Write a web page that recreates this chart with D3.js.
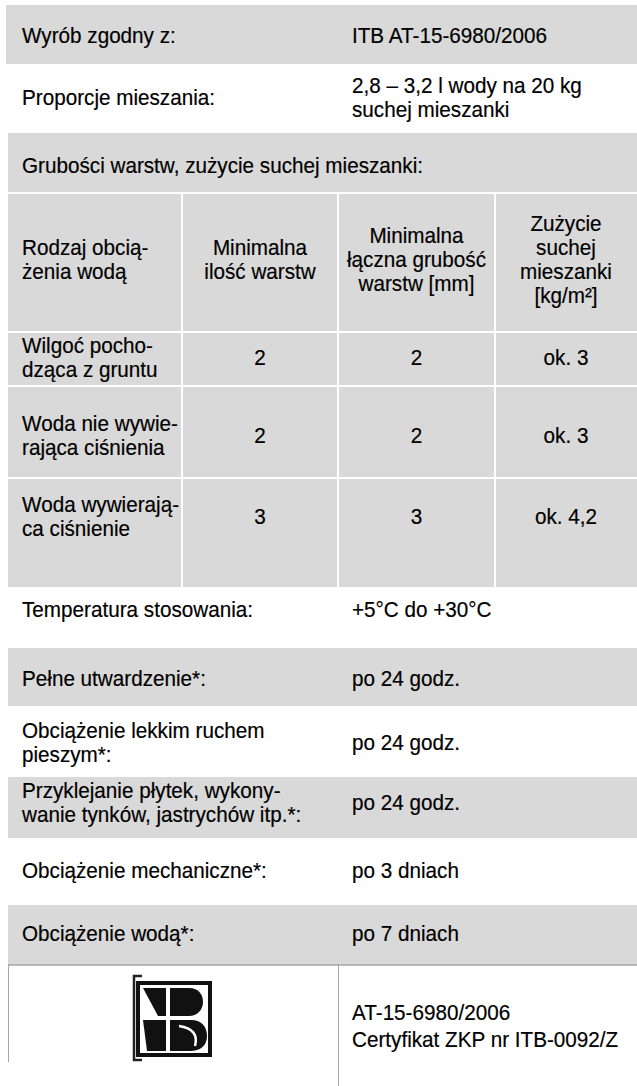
<!DOCTYPE html>
<html lang="pl">
<head>
<meta charset="UTF-8">
<title>Dane techniczne</title>
<script src="https://d3js.org/d3.v7.min.js"></script>
<style>
  body { margin: 0; background: #fff; }
  svg { display: block; }
  text { font-family: "Liberation Sans", Arial, sans-serif; font-size: 22px; fill: #000; stroke: #000; stroke-width: 0.2px; }
</style>
</head>
<body>
<div id="chart"></div>
<script>
  // --- data ---
  const topLabels = ["Wyrób zgodny z:", "Proporcje mieszania:"];
  const topValues = ["ITB AT-15-6980/2006", "2,8 – 3,2 l wody na 20 kg\nsuchej mieszanki"];
  const sectionTitle = "Grubości warstw, zużycie suchej mieszanki:";
  const tableColumns = ["Rodzaj obcią-\nżenia wodą", "Minimalna\nilość warstw",
                        "Minimalna\nłączna grubość\nwarstw [mm]", "Zużycie\nsuchej\nmieszanki\n[kg/m²]"];
  const loadTypes = ["Wilgoć pocho-\ndząca z gruntu", "Woda nie wywie-\nrająca ciśnienia", "Woda wywierają-\nca ciśnienie"];
  const minLayers = ["2", "2", "3"];
  const minThickness = ["2", "2", "3"];
  const consumption = ["ok. 3", "ok. 3", "ok. 4,2"];
  const propLabels = ["Temperatura stosowania:", "Pełne utwardzenie*:", "Obciążenie lekkim ruchem\npieszym*:",
                      "Przyklejanie płytek, wykony-\nwanie tynków, jastrychów itp.*:", "Obciążenie mechaniczne*:",
                      "Obciążenie wodą*:"];
  const propValues = ["+5°C do +30°C", "po 24 godz.", "po 24 godz.", "po 24 godz.", "po 3 dniach", "po 7 dniach"];
  const certLines = ["AT-15-6980/2006", "Certyfikat ZKP nr ITB-0092/Z"];

  // --- layout ---
  const width = 637, height = 1086;
  const gray = "#d9d9d9";
  const lineH = 24;
  const squeeze = 0.94;   // the original type is a little narrower than Arial

  const svg = d3.select("#chart").append("svg")
      .attr("width", width)
      .attr("height", height);

  // horizontal bands
  const bands = [
    { y0: 5,   y1: 64,  fill: true,  cy: 36 },   // Wyrób
    { y0: 64,  y1: 133, fill: false, cy: 98 },   // Proporcje
    { y0: 133, y1: 193, fill: true,  cy: 166 },  // Grubości
    { y0: 193, y1: 587, fill: true,  cy: 0 },    // table
    { y0: 587, y1: 648, fill: false, cy: 610 },
    { y0: 648, y1: 706, fill: true,  cy: 679 },
    { y0: 706, y1: 777, fill: false, cy: 743 },
    { y0: 777, y1: 838, fill: true,  cy: 803 },
    { y0: 838, y1: 905, fill: false, cy: 871 },
    { y0: 905, y1: 965, fill: true,  cy: 934 }
  ];

  svg.selectAll("rect.band")
    .data(bands.filter(d => d.fill))
    .join("rect")
      .attr("class", "band")
      .attr("x", d => d.y0 < 100 ? 6 : 8)
      .attr("y", d => d.y0)
      .attr("width", d => width - (d.y0 < 100 ? 6 : 8))
      .attr("height", d => d.y1 - d.y0)
      .attr("fill", gray);

  // multi-line text centred vertically on cy
  function addText(g, str, x, cy, anchor) {
    const lines = str.split("\n");
    const t = g.append("text")
      .attr("transform", `translate(${x},0) scale(${squeeze},1)`)
      .attr("y", cy - (lines.length - 1) * lineH / 2)
      .attr("dominant-baseline", "central")
      .attr("text-anchor", anchor || "start");
    t.selectAll("tspan")
      .data(lines)
      .join("tspan")
        .attr("x", 0)
        .attr("dy", (d, i) => i === 0 ? 0 : lineH)
        .text(d => d);
    return t;
  }

  const labelX = 22, valueX = 352;
  const g = svg.append("g");

  // top rows
  topLabels.forEach((l, i) => {
    addText(g, l, labelX, bands[i].cy);
    addText(g, topValues[i], valueX, bands[i].cy);
  });
  addText(g, sectionTitle, labelX, bands[2].cy);

  // table grid
  const colEdges = [8, 182, 338, 495, width];
  const rowEdges = [193, 332, 386, 478, 587];
  const headerCy = 260;
  const rowCy = [358, 436, 517];

  svg.selectAll("line.hgrid")
    .data(rowEdges.slice(0, 4))
    .join("line")
      .attr("class", "hgrid")
      .attr("x1", 8).attr("x2", width)
      .attr("y1", d => d).attr("y2", d => d)
      .attr("stroke", "#fff").attr("stroke-width", 2);

  svg.selectAll("line.vgrid")
    .data(colEdges.slice(1, 4))
    .join("line")
      .attr("class", "vgrid")
      .attr("x1", d => d).attr("x2", d => d)
      .attr("y1", rowEdges[0]).attr("y2", rowEdges[4])
      .attr("stroke", "#fff").attr("stroke-width", 2);

  const colCentre = i => (colEdges[i] + colEdges[i + 1]) / 2;

  tableColumns.forEach((c, i) => {
    addText(g, c, i === 0 ? labelX : colCentre(i), headerCy, i === 0 ? "start" : "middle");
  });
  loadTypes.forEach((l, r) => {
    addText(g, l, labelX, rowCy[r]);
    addText(g, minLayers[r], colCentre(1), rowCy[r], "middle");
    addText(g, minThickness[r], colCentre(2), rowCy[r], "middle");
    addText(g, consumption[r], colCentre(3), rowCy[r], "middle");
  });

  // property rows
  propLabels.forEach((l, i) => {
    const b = bands[4 + i];
    addText(g, l, labelX, b.cy);
    addText(g, propValues[i], valueX, b.cy);
  });

  // certificate cell
  const border = "#a6a6a6";
  svg.append("line").attr("x1", 8).attr("x2", width).attr("y1", 965).attr("y2", 965)
    .attr("stroke", border).attr("stroke-width", 1.5);
  svg.append("line").attr("x1", 8.5).attr("x2", 8.5).attr("y1", 965).attr("y2", 1062)
    .attr("stroke", border).attr("stroke-width", 1);
  svg.append("line").attr("x1", 338.5).attr("x2", 338.5).attr("y1", 965).attr("y2", height)
    .attr("stroke", border).attr("stroke-width", 1);

  certLines.forEach((c, i) => addText(g, c, valueX, 1013 + i * 27));

  // ITB logo
  const ink = "#111";
  const logo = svg.append("g").attr("transform", "translate(133,975)");
  logo.append("path")
    .attr("d", "M9,1 H1 V85 H9")
    .attr("fill", "none").attr("stroke", "#222").attr("stroke-width", 2.5);
  logo.append("rect")
    .attr("x", 5).attr("y", 8).attr("width", 72).attr("height", 72)
    .attr("fill", "#fff").attr("stroke", ink).attr("stroke-width", 4);
  // upper-left wedge
  logo.append("path").attr("fill", ink)
    .attr("d", "M10,13 H33 V41 H25 Z");
  // upper bowl
  logo.append("path").attr("fill", ink)
    .attr("d", "M37,13 H56 C66,13 70,20 70,27 C70,35 64,41 56,41 H37 Z");
  // lower-left block
  logo.append("path").attr("fill", ink)
    .attr("d", "M10,45 H33 V76 H14 Z");
  // lower bowl
  logo.append("path").attr("fill", ink)
    .attr("d", "M37,45 H58 C69,45 74,52 74,61 C74,71 67,76 57,76 H37 Z");
  logo.append("path").attr("fill", "none").attr("stroke", "#fff").attr("stroke-width", 2.5)
    .attr("d", "M46,51 C60,53 65,60 62,71");
</script>
</body>
</html>
